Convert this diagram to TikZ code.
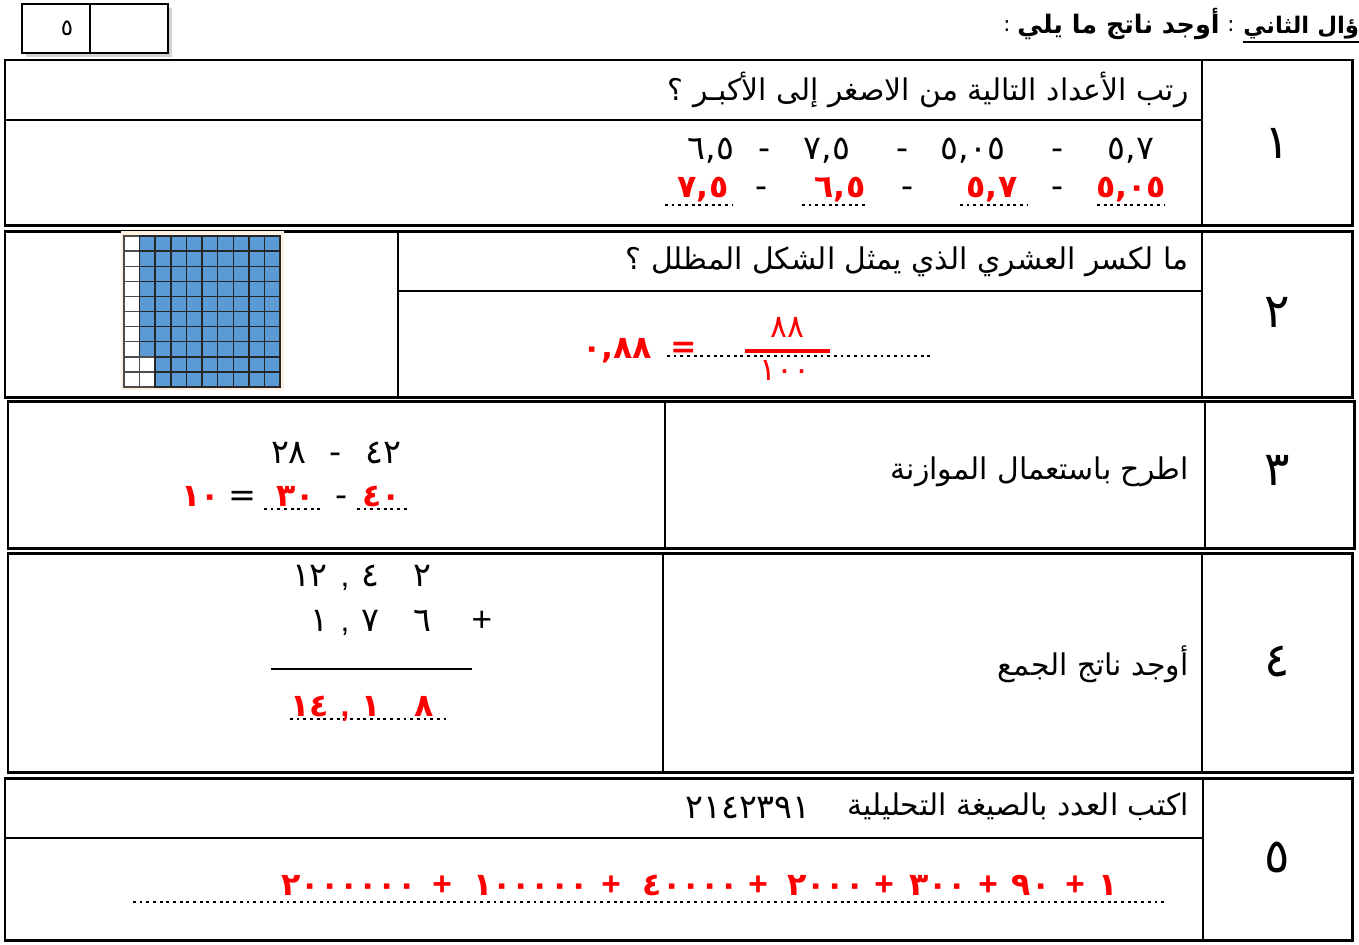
\documentclass[tikz,border=0pt]{standalone}
\usepackage{fontspec}
\setmainfont{Liberation Sans}
\newfontfamily\arabicfont[Script=Arabic]{DejaVu Sans}
\TeXXeTstate=1
\definecolor{cellblue}{RGB}{91,155,213}
\definecolor{paper}{RGB}{253,240,224}
\begin{document}
\begin{tikzpicture}[x=0.02cm,y=-0.02cm,
    frame/.style={line width=1.7pt},
    rule/.style={line width=1pt},
    ask/.style={font=\arabicfont\fontsize{17}{20}\selectfont,anchor=east,inner sep=0pt},
    num/.style={font=\arabicfont\fontsize{27}{30}\selectfont,inner sep=0pt},
    fig/.style={font=\arabicfont\fontsize{19}{22}\selectfont,inner sep=0pt,anchor=base},
    ans/.style={font=\arabicfont\bfseries\fontsize{18}{21}\selectfont,text=red,inner sep=0pt,anchor=base},
    dots/.style={line width=1.6pt,dash pattern=on 1.6pt off 2.2pt}]
    \useasboundingbox[fill=white] (0,0) rectangle (1359,944);

    % mark box
    \fill[gray!35] (26,8) rectangle (172,57);
    \draw[rule,fill=white] (22,4) rectangle (168,53);
    \draw[frame] (90,4) -- (90,53);
    \node[font=\arabicfont\fontsize{13}{15}\selectfont] (mark) at (67,28) {٥};

    % heading
    \node[font=\arabicfont\bfseries\fontsize{13}{16}\selectfont,anchor=base west,inner sep=0pt] (hdr) at (1243,33) {\beginR ؤال الثاني\endR};
    \draw[line width=1.2pt] (1243,42) -- (1359,42);
    \node[font=\arabicfont\fontsize{12}{14}\selectfont] (colA) at (1231,26) {:};
    \node[font=\arabicfont\bfseries\fontsize{14.5}{17}\selectfont,anchor=base east,inner sep=0pt] (task) at (1220,33) {\beginR أوجد ناتج ما يلي\endR};
    \node[font=\arabicfont\fontsize{12}{14}\selectfont] (colB) at (1007,26) {:};

    % row frames
    \draw[frame] (5,60) rectangle (1352,225);
    \draw[rule] (1202,60) -- (1202,225) (5,120) -- (1202,120);
    \draw[frame] (5,231) rectangle (1352,397);
    \draw[rule] (398,231) -- (398,397) (1202,231) -- (1202,397) (398,291) -- (1202,291);
    \draw[frame] (8,401) rectangle (1354,548);
    \draw[rule] (665,401) -- (665,548) (1205,401) -- (1205,548);
    \draw[frame] (8,553) rectangle (1352,772);
    \draw[rule] (663,553) -- (663,772) (1202,553) -- (1202,772);
    \draw[frame] (5,778) rectangle (1352,940);
    \draw[rule] (1203,778) -- (1203,940) (5,838) -- (1203,838);

    % question numbers
    \node[num] (n1) at (1277,143) {١};
    \node[num] (n2) at (1277,312) {٢};
    \node[num] (n3) at (1277,470) {٣};
    \node[num] (n4) at (1277,662) {٤};
    \node[num] (n5) at (1277,857) {٥};

    % questions
    \node[ask] (q1) at (1189,90) {\beginR رتب الأعداد التالية من الاصغر إلى الأكبـر ؟\endR};
    \node[ask] (q2) at (1189,262) {\beginR ما لكسر العشري الذي يمثل الشكل المظلل ؟\endR};
    \node[ask] (q3) at (1189,472) {\beginR اطرح باستعمال الموازنة\endR};
    \node[ask] (q4) at (1189,664) {\beginR أوجد ناتج الجمع\endR};
    \node[ask] (q5) at (1189,807) {\beginR اكتب العدد بالصيغة التحليلية\endR};
    \node[fig] (q5n) at (748,818) {٢١٤٢٣٩١};

    % row 1
    \foreach \x/\t in {1131/{٥,٧}, 973/{٥,٠٥}, 827/{٧,٥}, 711/{٦,٥}}
      \node[fig] at (\x,159) {\t};
    \foreach \x in {1058,903,765}
      \node[fig] at (\x,159) {-};
    \foreach \x/\t in {1131/{٥,٠٥}, 992/{٥,٧}, 840/{٦,٥}, 703/{٧,٥}}
      \node[ans] at (\x,197) {\t};
    \foreach \x in {1058,908,762}
      \node[fig] at (\x,197) {-};
    \foreach \a/\b in {1097/1165, 960/1027, 802/868, 665/732}
      \draw[dots] (\a,205) -- (\b,205);

    % row 2 grid
    \fill[paper] (121,231) rectangle (284,390);
    \foreach \i in {0,...,9}
      \foreach \j in {0,...,9}{
        \pgfmathsetmacro\blank{(\i==0)||(\i==1 && \j>7)}
        \ifdim\blank pt>0.5pt
          \draw[black!70,fill=white,line width=0.8pt] (124+15.6*\i,236+15.1*\j) rectangle ++(15.6,15.1);
        \else
          \draw[black!85,fill=cellblue,line width=0.8pt] (124+15.6*\i,236+15.1*\j) rectangle ++(15.6,15.1);
        \fi
      }
    \draw[dots] (667,356) -- (932,356);
    \node[ans] (dec) at (617,358) {٠,٨٨};
    \node[ans] (eq) at (684,357) {=};
    \node[font=\arabicfont\fontsize{18}{21}\selectfont,text=red,inner sep=0pt,anchor=base] (top) at (787,337) {٨٨};
    \node[font=\arabicfont\fontsize{18}{21}\selectfont,text=red,inner sep=0pt,anchor=base] (bot) at (785,380) {١٠٠};
    \draw[red,line width=2.2pt] (745,351) -- (830,351);

    % row 3
    \node[fig] (a1) at (289,463) {٢٨};
    \node[fig] (m1) at (336,463) {-};
    \node[fig] (a2) at (383,463) {٤٢};
    \draw[dots] (264,509) -- (322,509);
    \draw[dots] (357,509) -- (408,509);
    \node[ans] (r1) at (201,506) {١٠};
    \node[fig] (e1) at (242,506) {=};
    \node[ans] (r2) at (296,506) {٣٠};
    \node[fig] (m2) at (342,506) {-};
    \node[ans] (r3) at (382,506) {٤٠};

    % row 4
    \foreach \x/\t in {310/١٢, 370/٤, 422/٢}
      \node[fig] at (\x,586) {\t};
    \node[font=\fontsize{18}{21}\selectfont,inner sep=0pt,anchor=base] (c1) at (345,586) {,};
    \foreach \x/\t in {319/١, 370/٧, 422/٦}
      \node[fig] at (\x,631) {\t};
    \node[font=\fontsize{18}{21}\selectfont,inner sep=0pt,anchor=base] (c2) at (345,631) {,};
    \node[font=\fontsize{20}{24}\selectfont,inner sep=0pt,anchor=base] (plus) at (482,631) {+};
    \draw[line width=1.3pt] (271,669) -- (472,669);
    \draw[dots] (290,719) -- (450,719);
    \foreach \x/\t in {310/١٤, 371/١, 424/٨}
      \node[ans] at (\x,716) {\t};
    \node[font=\bfseries\fontsize{18}{21}\selectfont,text=red,inner sep=0pt,anchor=base] (c3) at (345,716) {,};

    % row 5
    \draw[dots] (133,902) -- (1165,902);
    \foreach \x/\t in {349/٢٠٠٠٠٠٠, 531/١٠٠٠٠٠, 691/٤٠٠٠٠, 826/٢٠٠٠, 938/٣٠٠, 1031/٩٠, 1108/١}
      \node[ans] at (\x,895) {\t};
    \foreach \x in {442,611,758,884,988,1075}
      \node[font=\bfseries\fontsize{19}{22}\selectfont,text=red,inner sep=0pt,anchor=base] at (\x,895) {+};
\end{tikzpicture}
\end{document}
